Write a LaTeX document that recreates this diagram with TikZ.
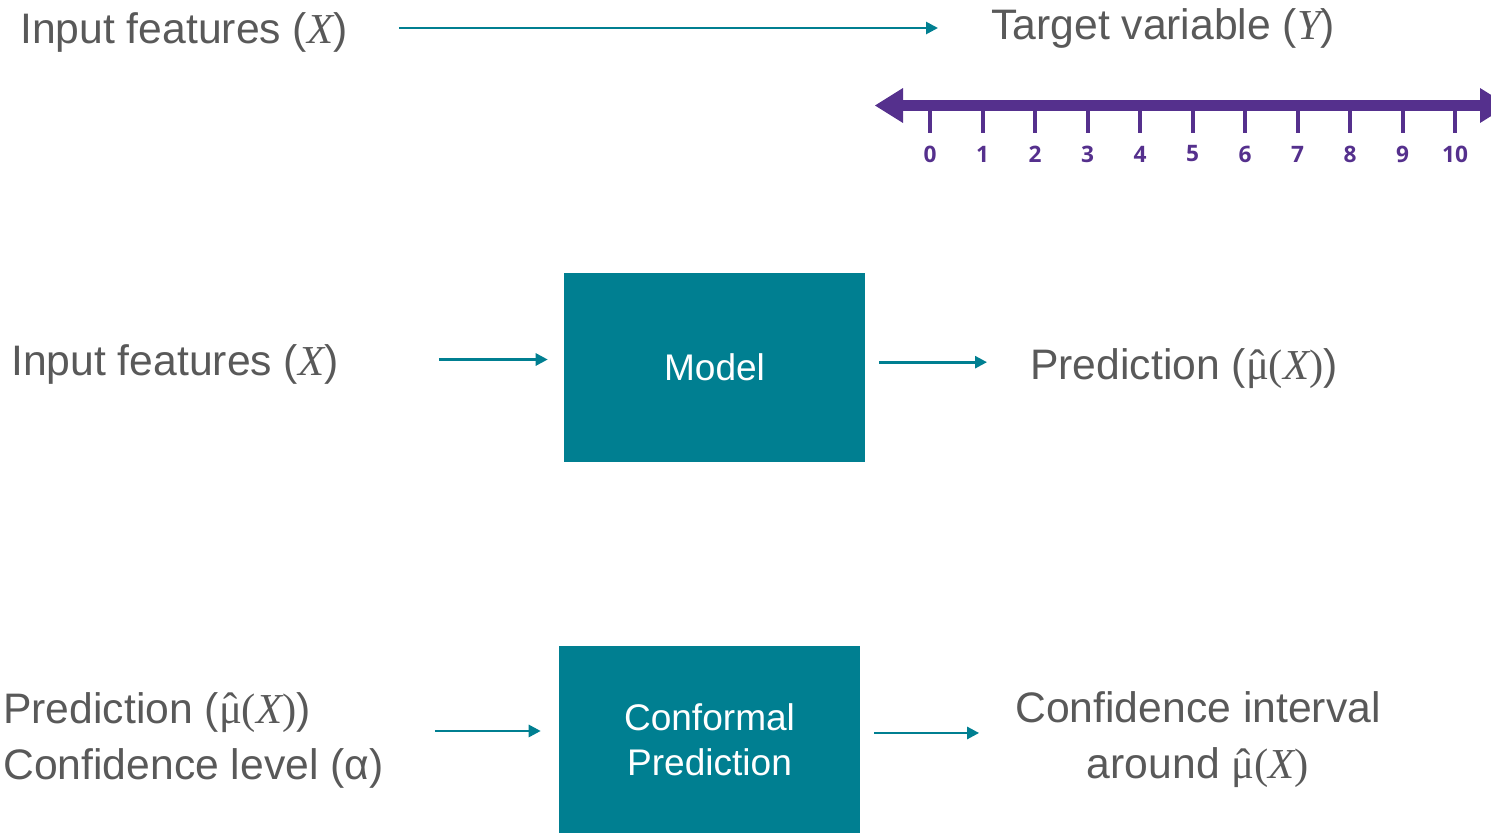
\documentclass[tikz,border=0pt]{standalone}
\usepackage{fontspec}
\setmainfont{Liberation Sans}
\newfontfamily\serif{Liberation Serif}
\newfontfamily\numfont{Open Sans}
\usetikzlibrary{arrows.meta}
\definecolor{tealA}{HTML}{007F91}
\definecolor{grayA}{HTML}{595959}
\definecolor{purpA}{HTML}{55308D}
\newcommand\vX{{\serif\itshape X}}
\newcommand\vY{{\serif\itshape Y}}
\newcommand\muh{\ooalign{μ\cr\hidewidth\raisebox{0.02em}{ˆ}\hidewidth\cr}}
\newcommand\muX{{\serif\muh(\itshape X\upshape)}}
\begin{document}
\begin{tikzpicture}[x=0.75pt,y=-0.75pt,
  txt/.style={text=grayA, font=\fontsize{32}{42}\selectfont, inner sep=0pt},
  boxA/.style={fill=tealA, text=white, font=\fontsize{27.8}{33.75}\selectfont, inner sep=0pt,
     minimum width=225.75pt, align=center},
  arr/.style={draw=tealA, line width=2pt, -{Triangle[length=9pt,width=9pt]}},
  num/.style={text=purpA, font=\numfont\bfseries\fontsize{17}{20}\selectfont, inner sep=0pt}]
\useasboundingbox (0,0) rectangle (1491,833);

% top row
\node[txt, anchor=west] (in1) at (20,32) {Input features (\vX)};
\node[txt, anchor=west] (tgt) at (991,28) {Target variable (\vY)};
\draw[arr, shorten <=38.25pt, shorten >=39.75pt] ([yshift=3pt]in1.east) -- ([yshift=3pt]in1.east -| tgt.west);

% number line
\fill[purpA] (898,100) rectangle (1484,111);
\fill[purpA] (875,105.5) -- (903,88) -- (903,123) -- cycle;
\fill[purpA] (1508,105.5) -- (1480,88) -- (1480,123) -- cycle;
\foreach \i in {0,...,10} {
  \draw[purpA, line width=3pt] (930+52.5*\i,110) -- (930+52.5*\i,133);
  \node[num] (n\i) at (930+52.5*\i,154) {\i};
}

% middle row
\node[txt, anchor=west] (in2) at (11,364) {Input features (\vX)};
\node[boxA, minimum height=141.75pt] (model) at (714.5,367.5) {Model};
\node[txt, anchor=west] (pred) at (1030,369) {Prediction (\muX)};
\draw[arr, shorten <=75pt, shorten >=12pt] ([yshift=6pt]model.west -| in2.east) -- ([yshift=6pt]model.west);
\draw[arr, shorten <=10.5pt, shorten >=32.25pt] ([yshift=4pt]model.east) -- ([yshift=4pt]model.east -| pred.west);

% bottom row
\node[txt, anchor=west, align=left] (in3) at (3,740) {Prediction (\muX)\\Confidence level (α)};
\node[boxA, minimum height=140.25pt] (cp) at (709.5,739.5) {Conformal\\Prediction};
\node[txt, align=center] (ci) at (1198,740) {Confidence interval\\around \muX};
\draw[arr, shorten <=38.25pt, shorten >=13.5pt] ([yshift=6.4pt]cp.west -| in3.east) -- ([yshift=6.4pt]cp.west);
\draw[arr, shorten <=10.5pt, shorten >=27pt] ([yshift=4.9pt]cp.east) -- ([yshift=4.9pt]cp.east -| ci.west);
\end{tikzpicture}
\end{document}
